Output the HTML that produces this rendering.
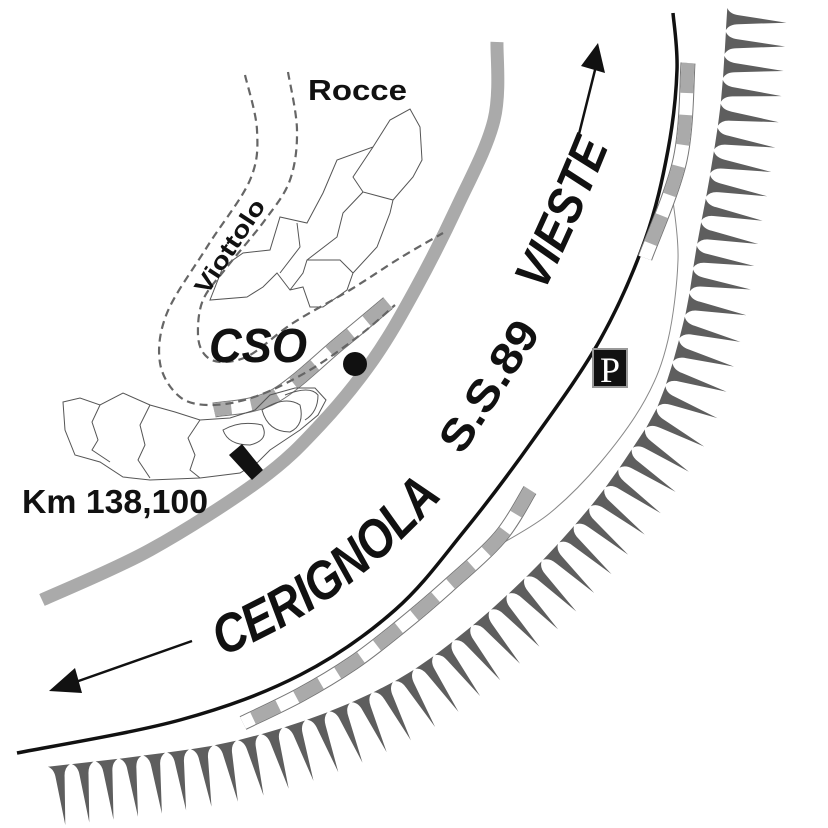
<!DOCTYPE html>
<html><head><meta charset="utf-8"><style>
html,body{margin:0;padding:0;background:#fff;}
svg{display:block;}
text{font-family:"Liberation Sans",Arial,sans-serif;font-weight:bold;fill:#111;}
</style></head><body>
<svg id="s" width="828" height="828" viewBox="0 0 828 828" xmlns="http://www.w3.org/2000/svg">
<defs>
<path id="pc" d="M222,656 Q352,604 448,490"/>
<path id="pss" d="M462,456 L543,330"/>
<path id="pv" d="M544,292 Q577,225 608,148"/>
<path id="pvio" d="M207,296 L270,200"/>
</defs>
<g id="teeth" fill="#5e5e5e"></g>
<path id="thin" fill="none" stroke="#888" stroke-width="1"/>
<path id="gray" fill="none" stroke="#aaa" stroke-width="13"/>
<path id="black" fill="none" stroke="#111" stroke-width="3.5"/>
<g id="rails"></g>
<g fill="none" stroke="#555" stroke-width="1">
<path d="M410,109 L420,127 L422,160 L413,177 L393,200 L390,213 L377,247 L353,273 L347,290 L323,307 L310,307 L303,287 L290,290 L277,273 L263,287 L247,297 L210,300 L223,267 L243,253 L270,250 L280,217 L307,223 L323,193 L337,160 L373,147 L390,120 Z"/>
<path d="M373,147 L353,177 L363,192 L393,200"/>
<path d="M363,192 L343,213 L337,237 L307,260 L303,273 L290,290"/>
<path d="M307,260 L340,260 L353,273"/>
<path d="M297,223 L300,247 L280,273"/>
<path d="M63,402 L80,398 L100,405 L123,393 L150,405 L175,412 L200,420 L230,418 L255,410 L270,395 L295,388 L315,388 L326,400 L318,415 L300,430 L285,440 L270,450 L258,462 L240,473 L200,478 L150,480 L123,477 L100,462 L75,455 L65,430 Z"/>
<path d="M100,405 L92,422 L98,440 L92,450 L110,462"/>
<path d="M150,405 L140,425 L145,445 L138,460 L150,478"/>
<path d="M200,420 L188,438 L195,455 L190,470 L200,478"/>
<path d="M223,430 Q240,420 262,425 Q270,440 250,445 Q228,445 223,430 Z"/>
<path d="M262,410 Q285,395 300,405 Q305,425 290,432 Q268,432 262,410 Z"/>
<path d="M285,395 Q310,385 318,395 Q318,412 305,420"/>
</g>
<g fill="none" stroke="#666" stroke-width="2.2" stroke-dasharray="8,5">
<path id="d1"/>
<path id="d2"/>
</g>
<polygon points="229,455 242,444 263,470 252,480" fill="#111"/>
<circle cx="355" cy="364" r="12" fill="#111"/>
<rect x="593" y="349" width="34" height="38" fill="#111" stroke="#999" stroke-width="2"/>
<text x="610" y="382" text-anchor="middle" style="font-family:'Liberation Serif',serif;font-size:36px;font-weight:normal;fill:#fff">P</text>
<line x1="578" y1="138" x2="597" y2="62" stroke="#111" stroke-width="2.5"/>
<polygon points="598,43 581,66 605,73" fill="#111"/>
<line x1="192" y1="641" x2="70" y2="684" stroke="#111" stroke-width="2.5"/>
<polygon points="49,691 75,668 82,693" fill="#111"/>
<text x="308" y="100" style="font-size:29px" textLength="99" lengthAdjust="spacingAndGlyphs">Rocce</text>
<text style="font-size:24px"><textPath href="#pvio" textLength="108" lengthAdjust="spacingAndGlyphs">Viottolo</textPath></text>
<text x="209" y="362" style="font-size:48px;font-style:italic" textLength="98" lengthAdjust="spacingAndGlyphs">CSO</text>
<text x="22" y="513" style="font-size:33px" textLength="186" lengthAdjust="spacingAndGlyphs">Km 138,100</text>
<text style="font-size:54px;font-style:italic"><textPath href="#pc" textLength="275" lengthAdjust="spacingAndGlyphs">CERIGNOLA</textPath></text>
<text style="font-size:44px"><textPath href="#pss" textLength="147" lengthAdjust="spacingAndGlyphs">S.S.89</textPath></text>
<text style="font-size:50px;font-style:italic"><textPath href="#pv" textLength="160" lengthAdjust="spacingAndGlyphs">VIESTE</textPath></text>
</svg>
<script>
function cr(p){var d="M"+p[0][0]+","+p[0][1];for(var i=0;i<p.length-1;i++){var a=p[i-1]||p[i],b=p[i],c=p[i+1],e=p[i+2]||c;
d+=" C"+(b[0]+(c[0]-a[0])/6).toFixed(1)+","+(b[1]+(c[1]-a[1])/6).toFixed(1)+" "+(c[0]-(e[0]-b[0])/6).toFixed(1)+","+(c[1]-(e[1]-b[1])/6).toFixed(1)+" "+c[0]+","+c[1];}return d;}
var NS="http://www.w3.org/2000/svg";
function set(id,pts){document.getElementById(id).setAttribute("d",cr(pts));}
set("gray",[[497,42],[494,120],[457,207],[415,290],[373,360],[320,425],[260,480],[150,550],[42,600]]);
set("black",[[673,13],[677,70],[668,150],[645,240],[600,340],[533,440],[465,530],[395,610],[300,675],[180,720],[17,753]]);
set("thin",[[673,200],[678,260],[668,340],[645,400],[600,463],[550,513],[503,543]]);
set("d1",[[245,75],[257,130],[250,180],[207,247],[167,313],[160,363],[180,397],[213,405],[257,396],[310,370],[360,335],[395,305]]);
set("d2",[[288,72],[297,130],[290,180],[265,220],[227,267],[203,300],[198,335],[205,355],[222,362],[250,355],[293,323],[350,290],[400,258],[443,233]]);
var rails=document.getElementById("rails");
[[[688,63],[680,160],[645,258]],[[530,490],[500,537],[447,587],[400,627],[353,663],[300,695],[243,723]],[[388,303],[340,343],[273,397],[214,410]]].forEach(function(p,k){
var d=cr(p);
[["#777",15,null],["#fff",13,null],["#aaa",13,k==0?"30,22":"28,20"]].forEach(function(s){var e=document.createElementNS(NS,"path");e.setAttribute("d",d);e.setAttribute("fill","none");e.setAttribute("stroke",s[0]);e.setAttribute("stroke-width",s[1]);if(s[2])e.setAttribute("stroke-dasharray",s[2]);rails.appendChild(e);});
});
var sp=document.createElementNS(NS,"path");
sp.setAttribute("d",cr([[727,13],[721,100],[710,175],[697,245],[684,320],[660,400],[630,452],[590,507],[533,570],[467,630],[400,678],[320,715],[230,742],[140,756],[45,767]]));
document.getElementById("s").appendChild(sp);sp.setAttribute("fill","none");
var L=sp.getTotalLength(),g=document.getElementById("teeth"),step=24,out="";
function P(x,y){return x.toFixed(1)+","+y.toFixed(1);}
for(var s=6;s<L;s+=step){var p=sp.getPointAtLength(s),q=sp.getPointAtLength(Math.min(L,s+1)),r=sp.getPointAtLength(Math.max(0,s-1));
var tx=q.x-r.x,ty=q.y-r.y,m=Math.hypot(tx,ty);tx/=m;ty/=m;var nx=ty,ny=-tx,w=11,len=60;
function at(a,b){return P(p.x+nx*a+tx*b,p.y+ny*a+ty*b);}
out+="M"+at(0,-w)+" Q"+at(3,-5)+" "+at(12,-4.5)+" L"+at(len,0)+" L"+at(12,4.5)+" Q"+at(3,5)+" "+at(0,w)+" Z ";}
var tp=document.createElementNS(NS,"path");tp.setAttribute("d",out);g.appendChild(tp);
sp.remove();
</script>
</body></html>
